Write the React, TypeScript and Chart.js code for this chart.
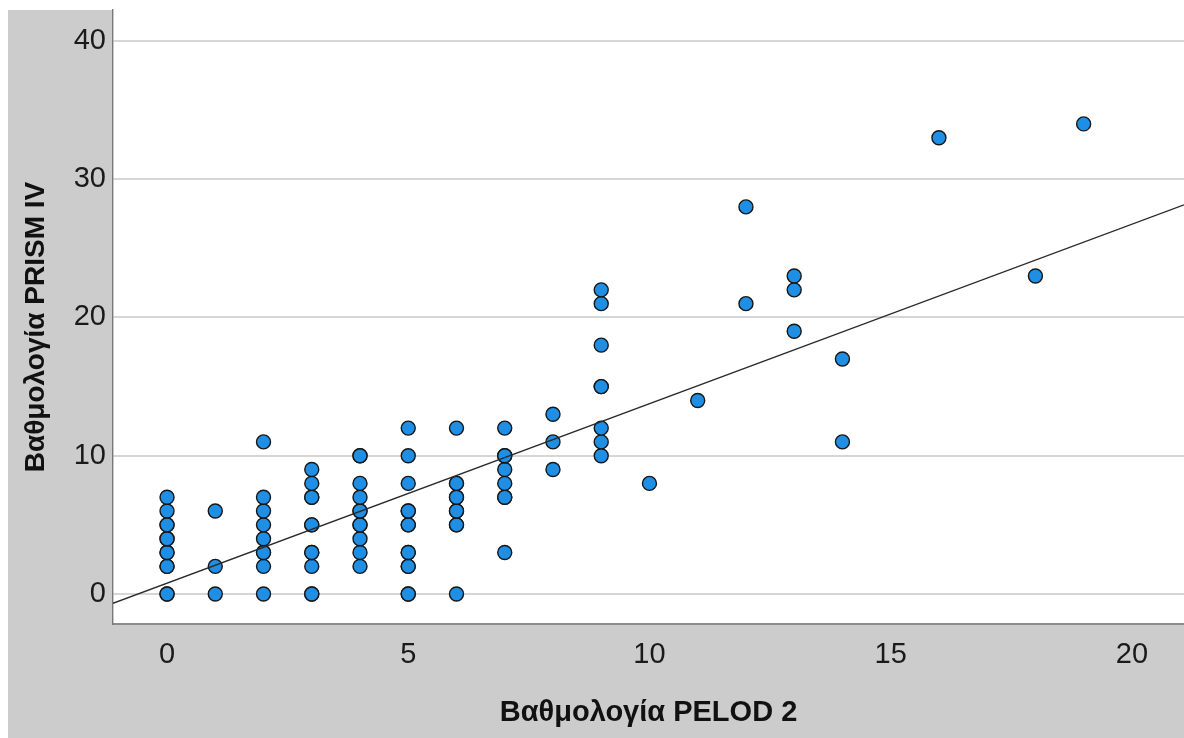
import React, { useEffect, useRef } from 'react';
import { Chart, registerables } from 'chart.js';

Chart.register(...registerables);

// PELOD 2 score (x) and PRISM IV score (y) for each patient, paired by index
const PELOD2 = [
  0, 0, 0, 0, 0, 0, 0, 0, 0, 0, 0, 0,
  1, 1, 1,
  2, 2, 2, 2, 2, 2, 2, 2, 2,
  3, 3, 3, 3, 3, 3, 3, 3, 3, 3, 3,
  4, 4, 4, 4, 4, 4, 4, 4, 4, 4, 4,
  5, 5, 5, 5, 5, 5, 5, 5, 5, 5, 5, 5, 5,
  6, 6, 6, 6, 6, 6, 6, 6, 6, 6,
  7, 7, 7, 7, 7, 7, 7, 7,
  8, 8, 8,
  9, 9, 9, 9, 9, 9, 9, 9,
  10,
  11,
  12, 12,
  13, 13, 13,
  14, 14,
  16,
  18,
  19,
];
const PRISM4 = [
  0, 0, 2, 2, 3, 3, 4, 4, 5, 5, 6, 7,
  0, 2, 6,
  0, 2, 3, 3, 4, 5, 6, 7, 11,
  0, 0, 2, 3, 3, 5, 5, 7, 7, 8, 9,
  2, 3, 4, 5, 5, 6, 6, 7, 8, 10, 10,
  0, 0, 2, 2, 3, 3, 5, 5, 6, 6, 8, 10, 12,
  0, 5, 5, 6, 6, 7, 7, 8, 8, 12,
  3, 7, 7, 8, 9, 10, 10, 12,
  9, 11, 13,
  10, 11, 12, 15, 15, 18, 21, 22,
  8,
  14,
  21, 28,
  19, 22, 23,
  11, 17,
  33,
  23,
  34,
];

// Fitted linear relation PRISM IV = intercept + slope * PELOD 2
const FIT_INTERCEPT = 0.78;
const FIT_SLOPE = 1.298;

const X_TICKS = [0, 5, 10, 15, 20];
const Y_TICKS = [0, 10, 20, 30, 40];
const X_MIN = -1.12;
const X_MAX = 21.08;
const Y_MIN = -2.17;
const Y_MAX = 42.24;

const X_TITLE = 'Βαθμολογία PELOD 2';
const Y_TITLE = 'Βαθμολογία PRISM IV';

const FONT = "'Liberation Sans', Arial, sans-serif";

// Grey frame around a white plotting area
const panelBackground = {
  id: 'panelBackground',
  beforeDraw(chart: any) {
    const { ctx, chartArea, width, height } = chart;
    ctx.save();
    ctx.fillStyle = '#ffffff';
    ctx.fillRect(0, 0, width, height);
    ctx.fillStyle = '#cccccc';
    ctx.fillRect(8, 10, width - 8, height - 10);
    ctx.fillStyle = '#ffffff';
    ctx.fillRect(chartArea.left, chartArea.top, chartArea.right - chartArea.left, chartArea.bottom - chartArea.top);
    ctx.restore();
  },
};

// Vertical axis title, set slightly below the plot's middle
const yAxisTitle = {
  id: 'yAxisTitle',
  afterDraw(chart: any) {
    const { ctx, chartArea } = chart;
    const cy = (chartArea.top + chartArea.bottom) / 2 + 10;
    ctx.save();
    ctx.translate(36, cy);
    ctx.rotate(-Math.PI / 2);
    ctx.font = `bold 28px ${FONT}`;
    ctx.fillStyle = '#111111';
    ctx.textAlign = 'center';
    ctx.textBaseline = 'middle';
    ctx.fillText(Y_TITLE, 0, 0);
    ctx.restore();
  },
};

export default function App() {
  const canvasRef = useRef<HTMLCanvasElement>(null);

  useEffect(() => {
    const canvas = canvasRef.current;
    if (!canvas) return;

    const points = PELOD2.map((x, i) => ({ x, y: PRISM4[i] }));
    const fitLine = [X_MIN, X_MAX].map((x) => ({ x, y: FIT_INTERCEPT + FIT_SLOPE * x }));

    const chart = new Chart(canvas, {
      type: 'scatter',
      data: {
        datasets: [
          {
            label: 'fit',
            data: fitLine,
            showLine: true,
            borderColor: '#2a2a2a',
            borderWidth: 1.3,
            pointRadius: 0,
            order: 0,
          },
          {
            label: 'patients',
            data: points,
            backgroundColor: '#1e8fe5',
            borderColor: '#161616',
            borderWidth: 1.4,
            pointRadius: 7,
            order: 1,
          },
        ],
      },
      options: {
        animation: false,
        responsive: false,
        events: [],
        layout: { autoPadding: false, padding: { top: 10, left: 0, right: 0, bottom: 0 } },
        plugins: {
          legend: { display: false },
          tooltip: { enabled: false },
        },
        scales: {
          x: {
            type: 'linear',
            position: 'bottom',
            min: X_MIN,
            max: X_MAX,
            afterBuildTicks: (scale: any) => {
              scale.ticks = X_TICKS.map((value) => ({ value }));
            },
            afterFit: (scale: any) => {
              scale.height = 114;
              scale.paddingLeft = 0;
              scale.paddingRight = 0;
            },
            grid: { display: false, drawTicks: false },
            border: { display: true, color: '#8c8c8c', width: 2 },
            ticks: {
              font: { family: FONT, size: 29 },
              color: '#1a1a1a',
              padding: 14,
              maxRotation: 0,
              autoSkip: false,
            },
            title: {
              display: true,
              text: X_TITLE,
              font: { family: FONT, size: 29, weight: 'bold' },
              color: '#111111',
              padding: { top: 0, bottom: 8 },
            },
          },
          y: {
            type: 'linear',
            position: 'left',
            min: Y_MIN,
            max: Y_MAX,
            afterBuildTicks: (scale: any) => {
              scale.ticks = Y_TICKS.map((value) => ({ value }));
            },
            afterFit: (scale: any) => {
              scale.width = 113;
              scale.paddingTop = 0;
              scale.paddingBottom = 0;
            },
            grid: { display: true, drawTicks: false, color: '#d6d6d6', lineWidth: 2 },
            border: { display: true, color: '#777777', width: 1.4 },
            ticks: {
              font: { family: FONT, size: 29 },
              color: '#1a1a1a',
              padding: 7,
              autoSkip: false,
            },
            title: { display: false },
          },
        },
      },
      plugins: [panelBackground, yAxisTitle],
    });

    return () => chart.destroy();
  }, []);

  return (
    <div style={{ position: 'fixed', left: 0, top: 0, width: 1184, height: 738 }}>
      <canvas
        ref={canvasRef}
        width={1184}
        height={738}
        style={{ display: 'block', width: 1184, height: 738 }}
      />
    </div>
  );
}
